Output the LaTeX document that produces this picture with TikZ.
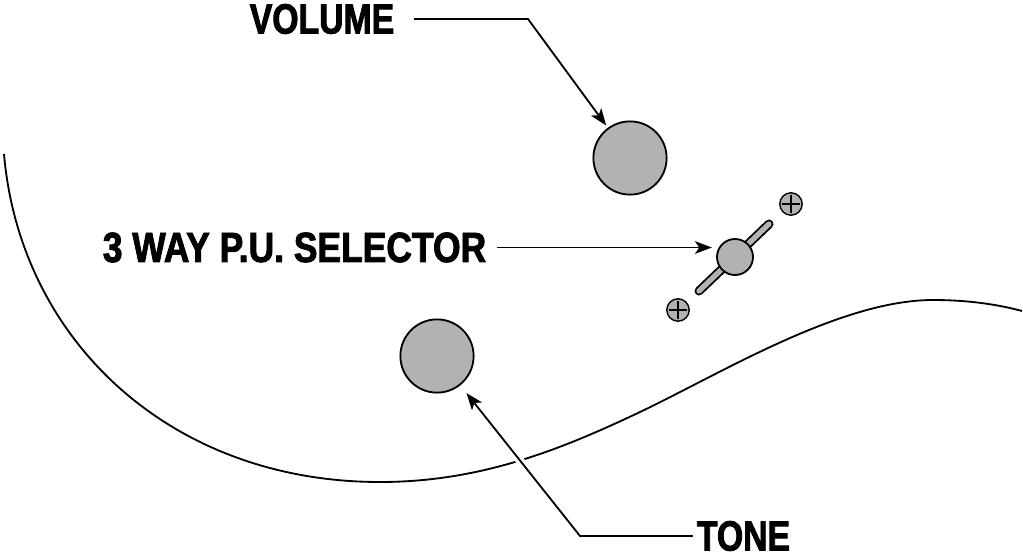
\documentclass[tikz,border=0pt]{standalone}
\usepackage{fontspec}
\usetikzlibrary{arrows.meta}
\newfontfamily\knobfont{Liberation Sans Bold}[FakeStretch=0.8,FakeBold=2]
\newfontfamily\selfont{Liberation Sans Bold}[FakeStretch=0.84,FakeBold=2]

\begin{document}
\begin{tikzpicture}[x=0.025cm,y=-0.025cm,line width=1.3pt,
  knob/.style={circle,draw,fill=black!30,minimum size=1.83cm,inner sep=0pt},
  ball/.style={circle,draw,fill=black!30,minimum size=0.9cm,inner sep=0pt},
  screw/.style={circle,draw,fill=black!30,minimum size=0.56cm,inner sep=0pt,line width=1pt},
  label/.style={font=\knobfont\fontsize{30pt}{32pt}\selectfont,inner sep=0pt},
  leader/.style={-{Stealth[length=12pt,width=9pt,inset=3pt]}},
  halo/.style={white,line width=6pt}]
\useasboundingbox (0,0) rectangle (1023,559);
% body edge
\draw (4,154) .. controls (20,340) and (170,482) .. (380,482)
  .. controls (480,482) and (560,450) .. (640,412)
  .. controls (720,374) and (840,300) .. (933,300)
  .. controls (970,300) and (1000,305) .. (1022,311);
\coordinate (tonebend) at (580,536);
\coordinate (volbend) at (528,19);
\draw[halo] (tonebend) -- (437,356);

% knobs
\node[knob] (volknob) at (630,158) {};
\node[knob] (toneknob) at (437,356) {};

% selector
\draw[line width=6.4pt,line cap=round] (699,291) -- (769,224);
\draw[line width=3.8pt,line cap=round,black!30] (699,291) -- (769,224);
\node[ball] (selball) at (735,257) {};
\node[screw] (screwa) at (791,204) {};
\node[screw] (screwb) at (678,310) {};
\draw[line width=1pt] ([xshift=2pt]screwa.west) -- ([xshift=-2pt]screwa.east);
\draw[line width=1pt] ([yshift=-2pt]screwa.north) -- ([yshift=2pt]screwa.south);
\draw[line width=1pt] ([xshift=2pt]screwb.west) -- ([xshift=-2pt]screwb.east);
\draw[line width=1pt] ([yshift=-2pt]screwb.north) -- ([yshift=2pt]screwb.south);

% labels
\node[label,outer xsep=0.5cm] (vollabel) at (322,19) {VOLUME};
\node[label,font=\selfont\fontsize{30pt}{32pt}\selectfont,outer xsep=0.27cm] (sellabel) at (294.5,247.5) {3 WAY P.U. SELECTOR};
\node[label,outer xsep=0.1cm] (tonelabel) at (743.5,536) {TONE};

\draw[leader,shorten >=2pt] (vollabel.east) -- (volbend) -- (volknob);
\draw[leader,shorten >=3pt] (sellabel.east) -- (sellabel.east -| selball.west);
\draw[leader,shorten >=7pt] (tonelabel.west) -- (tonebend) -- (toneknob);
\end{tikzpicture}
\end{document}
